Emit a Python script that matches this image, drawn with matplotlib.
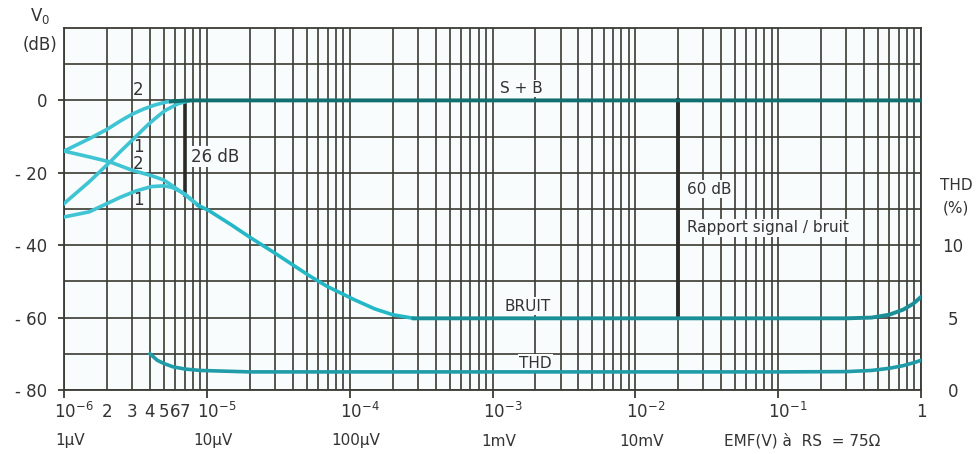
import matplotlib.pyplot as plt
from matplotlib.ticker import FixedLocator, NullFormatter

# --- data ---
# S+B (signal + noise) curves, dB
sb2_x = [1e-6, 1.5e-6, 2e-6, 2.5e-6, 3e-6, 3.6e-6, 4.3e-6, 5e-6, 5.6e-6]
sb2_db = [-14, -10.6, -8, -5.6, -3.8, -2.4, -1.3, -0.6, -0.2]
sb1_x = [1e-6, 1.5e-6, 2.1e-6, 2.5e-6, 3e-6, 3.5e-6, 3.9e-6, 4.5e-6, 5.1e-6, 6.3e-6, 7.5e-6]
sb1_db = [-28.5, -22.5, -17, -14, -11, -8.4, -6.6, -4.5, -2.8, -0.9, -0.1]
sb_x = [5.6e-6, 7e-6, 8e-6, 1e-5, 1.0]
sb_db = [-0.3, -0.05, 0, 0, 0]

# BRUIT (noise) curves, dB
noise2_x = [1e-6, 1.5e-6, 2.1e-6, 3e-6, 4.1e-6, 5e-6, 5.7e-6, 7e-6, 8.7e-6]
noise2_db = [-14, -15.6, -17, -19.3, -20.8, -22, -23.5, -26, -29]
noise1_x = [1e-6, 1.5e-6, 2e-6, 2.5e-6, 3.2e-6, 4.1e-6, 5e-6, 5.7e-6, 7e-6, 8.7e-6]
noise1_db = [-32.2, -30.8, -28.5, -26.7, -25, -23.8, -23.6, -24, -25.8, -29]
noise_x = [8.7e-6, 1.03e-5, 1.5e-5, 2e-5, 3e-5, 4.2e-5, 5.3e-5, 6.9e-5, 1.07e-4, 1.5e-4, 2e-4, 2.8e-4]
noise_db = [-29, -30.4, -34.5, -37.8, -42.2, -46, -48.6, -51.3, -55, -57.6, -59.2, -60.2]
noise_flat_x = [2.8e-4, 1e-3, 1e-2, 0.1, 0.3, 0.45, 0.6, 0.75, 0.88, 1.0]
noise_flat_db = [-60.2, -60.2, -60.2, -60.2, -60.2, -60.0, -59.2, -57.8, -56.2, -54.3]

# THD (%)
thd_x = [4e-6, 4.5e-6, 5e-6, 5.8e-6, 7e-6, 9e-6, 2e-5, 1e-3, 0.1, 0.3, 0.45, 0.6, 0.75, 0.9, 1.0]
thd_pct = [2.5, 2.05, 1.83, 1.6, 1.45, 1.35, 1.25, 1.25, 1.25, 1.27, 1.35, 1.5, 1.68, 1.9, 2.05]

y_ticks = [0, -20, -40, -60, -80]
y_labels = ['0', '- 20', '- 40', '- 60', '- 80']
thd_ticks = [0, 5, 10]
decades = [1e-6, 1e-5, 1e-4, 1e-3, 1e-2, 1e-1, 1.0]
dec_labels = ['$10^{-6}$', '$10^{-5}$', '$10^{-4}$', '$10^{-3}$', '$10^{-2}$', '$10^{-1}$', '1']
unit_labels = ['1µV', '10µV', '100µV', '1mV', '10mV']
sub_ticks = [2e-6, 3e-6, 4e-6, 5e-6, 6e-6, 7e-6]

ink = '#3b3a34'
cyan = '#3ec4d3'
teal_dark = '#11706f'
teal_mid = '#1b8f97'

plt.rcParams['font.family'] = ['DejaVu Sans']
fig = plt.figure(figsize=(9.77, 4.54), dpi=100, facecolor='white')
ax = fig.add_axes([64 / 977, 1 - 390 / 454, (921 - 64) / 977, (390 - 28) / 454])
ax.set_facecolor('#f8fcfc')
ax.set_xscale('log')
ax.set_xlim(1e-6, 1.0)
ax.set_ylim(-80, 20)

# grid: every 1-9 per decade, every 10 dB
minor = [m * 10.0 ** e for e in range(-6, 0) for m in range(1, 10)] + [1.0]
ax.xaxis.set_major_locator(FixedLocator(decades))
ax.xaxis.set_minor_locator(FixedLocator(minor))
ax.xaxis.set_major_formatter(NullFormatter())
ax.xaxis.set_minor_formatter(NullFormatter())
ax.yaxis.set_major_locator(FixedLocator(y_ticks))
ax.yaxis.set_minor_locator(FixedLocator(list(range(-70, 20, 10))))
ax.set_yticklabels(y_labels)
ax.grid(True, which='both', color=ink, lw=1.2)
ax.set_axisbelow(True)
for s in ax.spines.values():
    s.set_color(ink)
    s.set_linewidth(1.3)
ax.tick_params(axis='x', which='major', direction='out', length=6, color=ink, width=1.3)
ax.tick_params(axis='x', which='minor', length=0)
ax.tick_params(axis='y', which='major', direction='out', length=4, color=ink, width=1.3,
               labelsize=12, labelcolor='#333333', pad=8)
ax.tick_params(axis='y', which='minor', length=0)

# marker lines 26 dB and 60 dB
ax.plot([7e-6, 7e-6], [-1, -26], color='#2b2a26', lw=2.6, zorder=3)
ax.plot([2e-2, 2e-2], [0, -60], color='#2b2a26', lw=2.8, zorder=3)

# curves
ax.plot(sb2_x, sb2_db, color=cyan, lw=2.6, zorder=4)
ax.plot(sb1_x, sb1_db, color=cyan, lw=2.6, zorder=4)
ax.plot(noise2_x, noise2_db, color=cyan, lw=2.6, zorder=4)
ax.plot(noise1_x, noise1_db, color=cyan, lw=2.6, zorder=4)
ax.plot(noise_x, noise_db, color='#24b8c6', lw=2.6, zorder=4)
ax.plot(sb_x, sb_db, color=teal_dark, lw=2.8, zorder=5)
ax.plot(noise_flat_x, noise_flat_db, color=teal_mid, lw=2.8, zorder=5)

ax2 = ax.twinx()
ax2.set_ylim(0, 25)
ax2.plot(thd_x, thd_pct, color='#1f9ca8', lw=2.6, zorder=5)
ax2.set_yticks(thd_ticks)
ax2.tick_params(axis='y', length=0, labelsize=12, labelcolor='#333333', pad=23)
for lab in ax2.get_yticklabels():
    lab.set_horizontalalignment('center')
for s in ax2.spines.values():
    s.set_visible(False)

# x tick labels (two rows)
tx = ax.get_xaxis_transform()
for v, lab in zip(decades, dec_labels):
    dx = 10 if lab != '1' else 0
    ax.annotate(lab, (v, 0), xycoords=tx, xytext=(dx, -22), textcoords='offset pixels',
                ha='center', va='center', fontsize=12, color='#333333')
for v in sub_ticks:
    ax.annotate(str(int(round(v * 1e6))), (v, 0), xycoords=tx, xytext=(0, -22),
                textcoords='offset pixels', ha='center', va='center', fontsize=12, color='#333333')
for v, lab in zip(decades, unit_labels):
    ax.annotate(lab, (v, 0), xycoords=tx, xytext=(6, -51), textcoords='offset pixels',
                ha='center', va='center', fontsize=11, color='#333333')
ax.annotate('EMF(V) à  RS  = 75Ω', (0.1, 0), xycoords=tx, xytext=(24, -51),
            textcoords='offset pixels', ha='center', va='center', fontsize=11, color='#333333')

# axis titles
fig.text(40 / 977, 1 - 16 / 454, 'V$_0$', ha='center', va='center', fontsize=12, color='#333333')
fig.text(40 / 977, 1 - 45 / 454, '(dB)', ha='center', va='center', fontsize=12, color='#333333')
fig.text(956 / 977, 1 - 185 / 454, 'THD', ha='center', va='center', fontsize=11, color='#333333')
fig.text(956 / 977, 1 - 208 / 454, '(%)', ha='center', va='center', fontsize=11, color='#333333')

# annotations on the plot
box = dict(facecolor='#f8fcfc', edgecolor='none', pad=1.0)
txt = dict(fontsize=12, color='#333333', zorder=6)
ax.text(3.3e-6, 0.5, '2', ha='center', va='bottom', **txt)
ax.text(3.3e-6, -13, '1', ha='center', va='center', **txt)
ax.text(3.3e-6, -17.6, '2', ha='center', va='center', **txt)
ax.text(3.3e-6, -27.5, '1', ha='center', va='center', **txt)
ax.text(7.8e-6, -15.5, '26 dB', ha='left', va='center', bbox=box, **txt)
ax.text(1.6e-3, 3.3, 'S + B', ha='center', va='center', bbox=box, fontsize=11, color='#333333', zorder=6)
ax.text(1.75e-3, -56.8, 'BRUIT', ha='center', va='center', bbox=box, fontsize=11, color='#333333', zorder=6)
ax.text(2e-3, -72.6, 'THD', ha='center', va='center', bbox=box, fontsize=11, color='#333333', zorder=6)
ax.text(2.3e-2, -24.5, '60 dB', ha='left', va='center', bbox=box, fontsize=11, color='#333333', zorder=6)
ax.text(2.3e-2, -35.2, 'Rapport signal / bruit', ha='left', va='center', bbox=box,
        fontsize=11, color='#333333', zorder=6)

fig.savefig('out.png', dpi=100, facecolor='white')
